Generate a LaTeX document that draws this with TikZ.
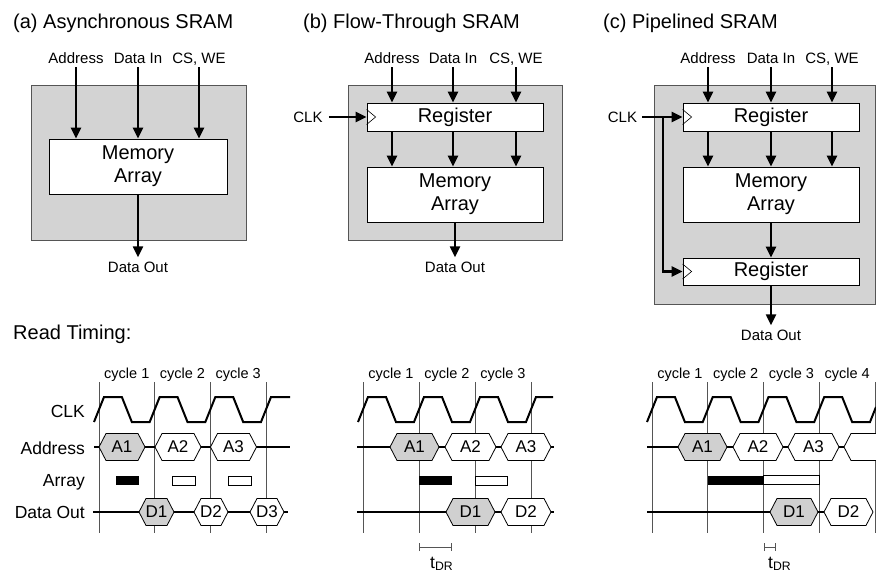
\documentclass[tikz,border=0pt]{standalone}
\usepackage{fontspec}
\setmainfont{Liberation Sans}
\usepackage{tikz}
\usetikzlibrary{arrows.meta, positioning, calc}
\definecolor{ChipGray}   {RGB}{211, 211, 211}
\definecolor{BusGray}    {RGB}{208, 208, 208}
\definecolor{EdgeGray}   {RGB}{ 85,  85,  85}

\newcommand{\fsz}[2]{\fontsize{#1}{#2}\selectfont}

\tikzset{
  chipbox/.style    = {draw=EdgeGray, line width=0.8pt, fill=ChipGray, inner sep=0pt},
  blockbox/.style   = {draw=black, line width=0.8pt, fill=white, inner sep=0pt,
                       align=center, font=\fsz{20}{23}},
  sigarrow/.style   = {line width=2.2pt, -{Triangle[length=11pt, width=10pt]}},
  pinlabel/.style   = {inner sep=0pt, anchor=base, font=\fsz{15}{17}},
  clklabel/.style   = {inner sep=0pt, font=\fsz{15}{17}},
  paneltitle/.style = {inner sep=0pt, anchor=base west, font=\fsz{20}{23}},
  rowlabel/.style   = {inner sep=0pt, anchor=base east, font=\fsz{17.5}{20}},
  cyclabel/.style   = {inner sep=0pt, anchor=base, font=\fsz{14.5}{17}},
  buslabel/.style   = {inner sep=0pt, font=\fsz{17}{20}},
  tdrlabel/.style   = {inner sep=0pt, anchor=base west, font=\fsz{17.5}{20}},
  edgeline/.style   = {draw=EdgeGray, line width=0.8pt},
  clkline/.style    = {line width=2pt},
  busline/.style    = {line width=2pt},
  hexedge/.style    = {line width=0.8pt},
  tdrbar/.style     = {draw=EdgeGray, line width=0.8pt, {Bar[width=8pt]}-{Bar[width=8pt]}},
}

% bus value: name, row y, x from, x to, fill, text
\newcommand{\busval}[6]{
  \draw[hexedge, fill=#5] (#3,#2) -- ++(7,-13.5) -- (#4-7,#2-13.5) -- (#4,#2)
       -- (#4-7,#2+13.5) -- (#3+7,#2+13.5) -- cycle;
  \node[buslabel] (#1) at ({(#3+#4)/2},#2) {#6};
}
% clock: first edge, period, periods, tail of path
\newcommand{\clkwave}[4]{
  \draw[clkline] (#1-5,422) \foreach \k in {1,...,#3}{
       -- ({#1+(\k-1)*#2+5},397) -- ({#1+(\k-0.5)*#2-5},397)
       -- ({#1+(\k-0.5)*#2+5},422) -- ({#1+\k*#2-5},422)} #4;
}
\newcommand{\clkmark}[1]{
  \draw[line width=0.6pt] ($(#1.west)+(0,-7.5)$) -- ++(9,7.5) -- ++(-9,7.5);
}

\begin{document}
\begin{tikzpicture}[x=1pt, y=-1pt]
  \useasboundingbox (0,0) rectangle (876,573);

  % (a) asynchronous
  \node[paneltitle] (ttlA) at (13,28) {(a) Asynchronous SRAM};
  \node[chipbox, minimum width=215, minimum height=155] (chipA) at (138.5,162.5) {};
  \node[blockbox, minimum width=178, minimum height=55] (memA) at (138,166.5) {Memory\\Array};
  \node[pinlabel] (addrA) at (76,63)  {Address};
  \node[pinlabel] (dinA)  at (138,63) {Data In};
  \node[pinlabel] (cswA)  at (199,63) {CS, WE};
  \node[pinlabel] (doutA) at (138,272) {Data Out};
  \foreach \p in {addrA,dinA,cswA}
    \draw[sigarrow] ([yshift=-4pt]\p.base) -- (\p.base |- memA.north);
  \draw[sigarrow] (memA.south) -- ([yshift=4pt]doutA.north);

  % (b) flow-through
  \node[paneltitle] (ttlB) at (303,28) {(b) Flow-Through SRAM};
  \node[chipbox, minimum width=214, minimum height=155] (chipB) at (455,162.5) {};
  \node[blockbox, minimum width=176, minimum height=28] (regB) at (455,117) {Register};
  \node[blockbox, minimum width=176, minimum height=55] (memB) at (455,194.5) {Memory\\Array};
  \node[pinlabel] (addrB) at (392,63) {Address};
  \node[pinlabel] (dinB)  at (453,63) {Data In};
  \node[pinlabel] (cswB)  at (516,63) {CS, WE};
  \node[pinlabel] (doutB) at (455,272) {Data Out};
  \node[clklabel] (clkB)  at (308,117) {CLK};
  \foreach \p in {addrB,dinB,cswB} {
    \draw[sigarrow] ([yshift=-4pt]\p.base) -- (\p.base |- regB.north);
    \draw[sigarrow] (\p.base |- regB.south) -- (\p.base |- memB.north);
  }
  \draw[sigarrow] ([xshift=6pt]clkB.east) -- (regB.west);
  \clkmark{regB}
  \draw[sigarrow] (memB.south) -- ([yshift=4pt]doutB.north);

  % (c) pipelined
  \node[paneltitle] (ttlC) at (603,28) {(c) Pipelined SRAM};
  \node[chipbox, minimum width=221, minimum height=219] (chipC) at (765,194.5) {};
  \node[blockbox, minimum width=176, minimum height=28] (regC) at (771,117) {Register};
  \node[blockbox, minimum width=176, minimum height=55] (memC) at (771,194.5) {Memory\\Array};
  \node[blockbox, minimum width=176, minimum height=27] (outregC) at (771,271.5) {Register};
  \node[pinlabel] (addrC) at (708,63) {Address};
  \node[pinlabel] (dinC)  at (771,63) {Data In};
  \node[pinlabel] (cswC)  at (832,63) {CS, WE};
  \node[pinlabel] (doutC) at (771,340) {Data Out};
  \node[clklabel] (clkC)  at (622.5,117) {CLK};
  \coordinate (tapC) at (663,117);
  \foreach \p in {addrC,dinC,cswC} {
    \draw[sigarrow] ([yshift=-4pt]\p.base) -- (\p.base |- regC.north);
    \draw[sigarrow] (\p.base |- regC.south) -- (\p.base |- memC.north);
  }
  \draw[sigarrow] ([xshift=5pt]clkC.east) -- (regC.west);
  \draw[sigarrow] (tapC) |- (outregC.west);
  \clkmark{regC}
  \clkmark{outregC}
  \draw[sigarrow] (memC.south) -- (outregC.north);
  \draw[sigarrow] (outregC.south) -- ([yshift=4pt]doutC.north);

  % read timing
  \node[paneltitle] (readT) at (13,339) {Read Timing:};
  \node[rowlabel] (clkT)  at (85,417) {CLK};
  \node[rowlabel] (addrT) at (85,454) {Address};
  \node[rowlabel] (arrT)  at (85,486) {Array};
  \node[rowlabel] (doutT) at (85,518) {Data Out};

  % timing (a)
  \foreach \e in {99,154.67,210.33,266}
    \draw[edgeline] (\e,382) -- (\e,533);
  \foreach \c/\x in {1/126.8,2/182.5,3/238.2}
    \node[cyclabel] (cycA\c) at (\x,378) {cycle \c};
  \clkwave{99}{55.67}{3}{-- (271,397) -- (290,397)}
  \draw[busline] (94,447) -- (290,447);
  \busval{adA1}{447}{99}{145}{BusGray}{A1}
  \busval{adA2}{447}{155}{201}{white}{A2}
  \busval{adA3}{447}{210.5}{256.5}{white}{A3}
  \fill (116,476) rectangle (139,485);
  \draw[hexedge, fill=white] (172,476) rectangle (195,485);
  \draw[hexedge, fill=white] (228,476) rectangle (251,485);
  \draw[busline] (93,512) -- (288,512);
  \busval{doA1}{512}{139}{174}{BusGray}{D1}
  \busval{doA2}{512}{194}{228}{white}{D2}
  \busval{doA3}{512}{250}{284}{white}{D3}

  % timing (b)
  \foreach \e in {363,419,475,531}
    \draw[edgeline] (\e,382) -- (\e,533);
  \foreach \c/\x in {1/391,2/447,3/503}
    \node[cyclabel] (cycB\c) at (\x,378) {cycle \c};
  \clkwave{363}{56}{3}{-- (536,397) -- (553,397)}
  \draw[busline] (357,447) -- (554,447);
  \busval{adB1}{447}{390}{439}{BusGray}{A1}
  \busval{adB2}{447}{445}{496}{white}{A2}
  \busval{adB3}{447}{501}{551}{white}{A3}
  \fill (419,476) rectangle (452,485);
  \draw[hexedge, fill=white] (475,476) rectangle (507,485);
  \draw[busline] (357,512) -- (554,512);
  \busval{doB1}{512}{446}{495}{BusGray}{D1}
  \busval{doB2}{512}{501}{551}{white}{D2}
  \coordinate (tdrB0) at (419,547);
  \coordinate (tdrB1) at (452,547);
  \draw[tdrbar] (tdrB0) -- (tdrB1);
  \node[tdrlabel] (tdrB) at (430,568) {t\textsubscript{DR}};

  % timing (c)
  \foreach \e in {652,707.75,763.5,819.25,875}
    \draw[edgeline] (\e,382) -- (\e,533);
  \foreach \c/\x in {1/679.9,2/735.6,3/791.4,4/847.1}
    \node[cyclabel] (cycC\c) at (\x,378) {cycle \c};
  \clkwave{652}{55.75}{4}{-- (876,407)}
  \draw[busline] (647,447) -- (844,447);
  \busval{adC1}{447}{678}{727}{BusGray}{A1}
  \busval{adC2}{447}{733}{783}{white}{A2}
  \busval{adC3}{447}{788}{839}{white}{A3}
  \draw[hexedge, fill=white] (876,433.5) -- (851,433.5) -- (844,447) -- (851,460.5) -- (876,460.5);
  \fill (707.75,475.5) rectangle (763.5,484.5);
  \draw[hexedge, fill=white] (763.5,475.5) rectangle (819.25,484.5);
  \draw[busline] (647,512) -- (824,512);
  \busval{doC1}{512}{770}{818}{BusGray}{D1}
  \busval{doC2}{512}{824}{873}{white}{D2}
  \coordinate (tdrC0) at (763.5,547);
  \coordinate (tdrC1) at (776,547);
  \draw[tdrbar] (tdrC0) -- (tdrC1);
  \node[tdrlabel] (tdrC) at (768,568) {t\textsubscript{DR}};
\end{tikzpicture}
\end{document}
